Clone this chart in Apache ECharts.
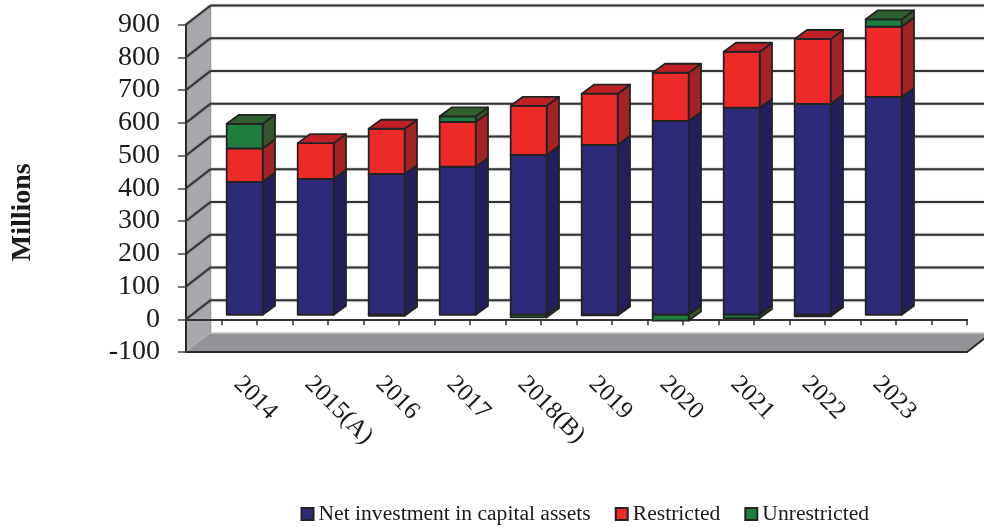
<!DOCTYPE html>
<html><head><meta charset="utf-8">
<style>html,body{margin:0;padding:0;background:#fff}#c{width:984px;height:527px}</style>
<script src="https://cdn.jsdelivr.net/npm/echarts@6/dist/echarts.min.js"></script>
</head><body><div id="c"></div>
<script>
const categories = ['2014','2015(A)','2016','2017','2018(B)','2019','2020','2021','2022','2023',''];
const halfSlots = ['','','','','','','','','','','','','','','','','','','','','',''];
const netInvestment = [406,415,430,452,488,519,592,632,644,665];
const restricted = [102,109,138,137,150,156,147,171,198,215];
const unrestricted = [75,0,-3,17,-8,-2,-18,-10,-5,22];
const gridTicks = [0,100,200,300,400,500,600,700,800,900];

const FONT = '"Liberation Serif","Times New Roman",serif';
const DEPTH_X = 24.5, DEPTH_Y = -19;        // wall depth (style)
const BAR_DX = 23.2, BAR_DY = -4.5, BAR_HALF = 18, SIDE_X = 12.3, SIDE_Y = -9;
const EDGE = '#232323';

function segments(){
  const net=[],res=[],unr=[];
  netInvestment.forEach((n,i)=>{
    const r=restricted[i],u=unrestricted[i];
    net.push([i,0,n]);
    res.push([i,n,n+r]);
    unr.push(u>=0?[i,n+r,n+r+u]:[i,0,u]);
  });
  return {net,res,unr};
}
const seg=segments();

function poly(points,fill,z2){
  return {type:'polygon',z2:z2||0,shape:{points},style:{fill,stroke:EDGE,lineWidth:1.8,lineJoin:'round'}};
}
function barRenderer(front,side,top){
  return function(params,api){
    const a=api.value(1),b=api.value(2);
    if(a===b) return {type:'group',children:[]};
    const p1=api.coord([api.value(0),a]),p2=api.coord([api.value(0),b]);
    const xc=p1[0]+BAR_DX,l=xc-BAR_HALF,r=xc+BAR_HALF;
    const yA=p1[1]+BAR_DY,yB=p2[1]+BAR_DY;
    const children=[
      poly([[r,yA],[r+SIDE_X,yA+SIDE_Y],[r+SIDE_X,yB+SIDE_Y],[r,yB]],side),
      poly([[l,yA],[r,yA],[r,yB],[l,yB]],front)
    ];
    if(b>a) children.push(poly([[l,yB],[r,yB],[r+SIDE_X,yB+SIDE_Y],[l+SIDE_X,yB+SIDE_Y]],top));
    return {type:'group',children};
  };
}
function barSeries(name,data,front,side,top){
  return {type:'custom',name,data,coordinateSystem:'cartesian2d',xAxisIndex:0,yAxisIndex:0,
    encode:{x:0,y:[1,2]},itemStyle:{color:front,borderColor:EDGE,borderWidth:1.6},clip:false,z:3,
    renderItem:barRenderer(front,side,top)};
}

const option={
  animation:false,
  backgroundColor:'#fff',
  grid:{left:186,top:24.5,width:781,height:327.5,containLabel:false,outerBoundsMode:'none'},
  legend:{left:300.5,top:503,padding:0,itemWidth:12,itemHeight:12,itemGap:24,icon:'rect',
    data:['Net investment in capital assets','Restricted','Unrestricted'],
    textStyle:{fontFamily:FONT,fontSize:21.6,color:'#1a1a1a'}},
  xAxis:[
    {type:'category',data:categories,position:'bottom',
      axisLine:{onZero:true,lineStyle:{color:'#333',width:2}},axisTick:{show:false},
      axisLabel:{interval:0,rotate:-45,fontFamily:FONT,fontSize:25,color:'#1a1a1a',margin:12,
        align:'left',verticalAlign:'middle',padding:[0,0,0,23]}},
    {type:'category',data:halfSlots,position:'bottom',
      axisLine:{onZero:true,onZeroAxisIndex:1,lineStyle:{color:'#333',width:2}},
      axisTick:{show:true,interval:0,length:6,lineStyle:{color:'#333',width:1.5}},
      axisLabel:{show:false}}
  ],
  yAxis:[
    {type:'value',min:-100,max:900,interval:100,
    name:'Millions',nameLocation:'middle',nameGap:149,nameRotate:90,
    nameTextStyle:{fontFamily:FONT,fontWeight:'bold',fontSize:28,color:'#1a1a1a',padding:[0,48,0,0]},
    axisLine:{show:true,onZero:false,lineStyle:{color:'#2a2a2a',width:2}},
    axisTick:{show:true,length:8,lineStyle:{color:'#444',width:1.5}},
    axisLabel:{fontFamily:FONT,fontSize:28,color:'#1a1a1a',margin:26},
    splitLine:{show:false}},
    {type:'value',min:-100,max:900,interval:100,show:false,position:'right',splitLine:{show:false}}
  ],
  series:[
    {type:'custom',name:'walls',data:[[-100,900]],coordinateSystem:'cartesian2d',z:-2,silent:true,clip:false,
      encode:{y:[0,1]},
      renderItem(params,api){
        const cs=params.coordSys,x0=cs.x,x1=cs.x+cs.width,yT=cs.y,yB=cs.y+cs.height;
        return {type:'group',children:[
          {type:'polygon',shape:{points:[[x0,yT],[x0+DEPTH_X,yT+DEPTH_Y],[x0+DEPTH_X,yB+DEPTH_Y],[x0,yB]]},style:{fill:'#a7a9ac'}},
          {type:'polygon',shape:{points:[[x0,yB],[x0+DEPTH_X,yB+DEPTH_Y],[x1+DEPTH_X,yB+DEPTH_Y],[x1,yB]]},style:{fill:'#929497'}},
          {type:'polyline',shape:{points:[[x0,yB],[x1,yB],[x1+DEPTH_X,yB+DEPTH_Y]]},style:{fill:'none',stroke:'#2a2a2a',lineWidth:2}},
          {type:'line',shape:{x1:x0+DEPTH_X,y1:yT+DEPTH_Y,x2:x0+DEPTH_X,y2:yB+DEPTH_Y},style:{stroke:'#9a9a9c',lineWidth:1.5}},
          {type:'line',shape:{x1:x0+DEPTH_X,y1:yB+DEPTH_Y,x2:x1+DEPTH_X,y2:yB+DEPTH_Y},style:{stroke:'#c4c5c7',lineWidth:1.5}}
        ]};
      }},
    {type:'custom',name:'gridlines',data:gridTicks.map(v=>[v]),coordinateSystem:'cartesian2d',z:-1,silent:true,clip:false,
      encode:{y:0},
      renderItem(params,api){
        const cs=params.coordSys,x0=cs.x,x1=cs.x+cs.width;
        const y=api.coord([0,api.value(0)])[1];
        const st={stroke:'#333',lineWidth:2,shadowColor:'rgba(0,0,0,.35)',shadowBlur:2};
        return {type:'group',children:[
          {type:'line',shape:{x1:x0,y1:y,x2:x0+DEPTH_X,y2:y+DEPTH_Y},style:st},
          {type:'line',shape:{x1:x0+DEPTH_X,y1:y+DEPTH_Y,x2:x1+DEPTH_X,y2:y+DEPTH_Y},style:st}
        ]};
      }},
    barSeries('Net investment in capital assets',seg.net,'#2e2a7a','#231f5c','#2a2668'),
    barSeries('Restricted',seg.res,'#ee2a28','#a32224','#bf2025'),
    barSeries('Unrestricted',seg.unr,'#1f7d3f','#35552b','#316030')
  ]
};
echarts.init(document.getElementById('c'),null,{renderer:'canvas'}).setOption(option);
</script></body></html>
